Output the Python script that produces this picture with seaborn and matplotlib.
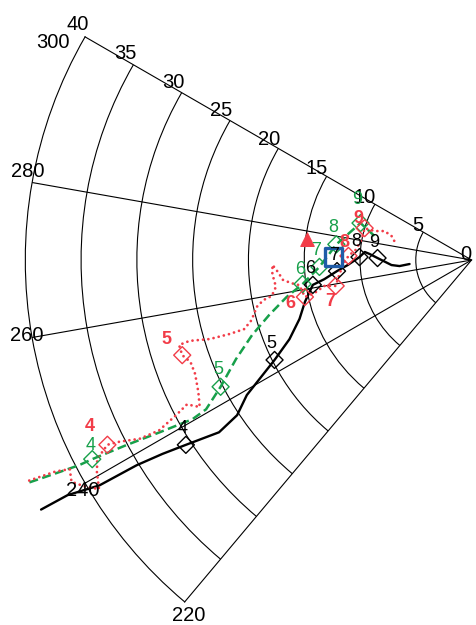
import numpy as np
import matplotlib
matplotlib.use("Agg")
import matplotlib.pyplot as plt
import seaborn as sns

# ---- track data: compass bearing (deg) and range ----
obs_bearing = [239.9, 239.8, 238.8, 238.5, 237.9, 237.1, 235.7, 236.5, 239.0, 240.7,
               243.1, 246.5, 251.1, 255.9, 261.1, 262.6, 265.3, 267.7, 271.5, 274.3,
               273.4, 271.2, 266.4, 265.2, 266.3]
obs_range = [44.6, 41.9, 39.0, 35.2, 32.7, 30.5, 27.4, 25.2, 23.5, 21.8,
             19.8, 17.8, 16.3, 15.4, 14.4, 13.3, 12.1, 11.1, 10.05, 9.6,
             9.16, 8.43, 7.19, 6.48, 5.57]

gfs_bearing = [243.3, 242.9, 242.4, 242.3, 241.8, 241.1, 240.3, 240.65, 243.2, 247.2,
               251.1, 254.8, 258.7, 261.9, 267.4, 276.6, 288.4, 283.5]
gfs_range = [44.36, 42.2, 39.7, 38.4, 35.1, 32.0, 28.8, 27.3, 25.2, 22.9,
             20.8, 18.8, 16.9, 15.3, 13.65, 12.2, 10.49, 8.85]

ec_bearing = [243.5, 243.05, 242.5, 241.0, 239.7, 238.4, 240.45, 242.0, 243.1, 242.7,
              241.7, 241.4, 242.3, 243.1, 241.6, 244.2, 247.6, 250.05, 251.8, 253.8,
              254.0, 253.2, 253.0, 253.1, 254.7, 257.7, 259.1, 259.8, 262.2, 266.0,
              268.6, 266.5, 264.0, 262.7, 261.7, 257.5, 258.1, 260.0, 259.2, 264.0,
              268.2, 271.9, 274.9, 280.3, 286.6, 286.6, 288.4, 286.7, 281.3]
ec_range = [44.3, 41.8, 40.6, 41.0, 40.2, 39.2, 38.6, 38.0, 36.6, 35.5,
            33.8, 31.9, 29.9, 28.6, 27.7, 27.2, 26.8, 26.8, 27.3, 27.3,
            26.3, 24.5, 22.7, 21.3, 20.45, 19.7, 19.0, 18.2, 17.7, 17.9,
            17.85, 17.4, 17.0, 16.3, 15.6, 15.3, 14.4, 13.4, 12.4, 11.9,
            11.5, 11.04, 10.44, 10.03, 10.0, 9.08, 8.22, 7.49, 6.86]

# daily fixes (day number, bearing, range)
days = [4, 5, 6, 7, 8, 9]
obs_fix_bearing = [237.1, 243.1, 261.1, 265.3, 271.5, 271.2]
obs_fix_range = [30.5, 19.8, 14.4, 12.1, 10.05, 8.43]
gfs_fix_bearing = [242.3, 243.2, 261.9, 267.4, 276.6, 288.4]
gfs_fix_range = [38.4, 25.2, 15.3, 13.65, 12.2, 10.49]
ec_fix_bearing = [243.1, 251.8, 257.5, 259.2, 271.9, 286.6]
ec_fix_range = [36.6, 27.3, 15.3, 12.4, 11.04, 10.0]

# single-point markers
triangle_bearing, triangle_range = [277.3], [14.9]
square_bearing, square_range = [271.2], [12.38]

# axis ticks
range_ticks = [0, 5, 10, 15, 20, 25, 30, 35, 40]
bearing_ticks = [220, 240, 260, 280, 300]

BLACK = "#000000"
GREEN = "#17a04a"
RED = "#f23c48"
BLUE = "#1f5ca8"

sns.set_theme(style="white")
plt.rcParams["font.family"] = ["Liberation Sans", "DejaVu Sans"]

fig = plt.figure(figsize=(4.76, 6.25), dpi=100)
# the polar wedge is fitted inside this box with some margin
ax = fig.add_axes([-0.0836, -0.0898, 1.187, 1.1576], projection="polar")
ax.set_theta_zero_location("N")
ax.set_theta_direction(-1)

rad = np.deg2rad

# tracks
sns.lineplot(x=rad(obs_bearing), y=obs_range, ax=ax, sort=False, estimator=None,
             color=BLACK, lw=1.7, clip_on=False, zorder=3)
sns.lineplot(x=rad(gfs_bearing), y=gfs_range, ax=ax, sort=False, estimator=None,
             color=GREEN, lw=1.8, clip_on=False, zorder=3,
             linestyle=(0, (3.6, 1.8)))
sns.lineplot(x=rad(ec_bearing), y=ec_range, ax=ax, sort=False, estimator=None,
             color=RED, lw=2.0, clip_on=False, zorder=3,
             linestyle=(0, (0.01, 1.9)), dash_capstyle="round")

# daily fix markers
for b, r, c in [(obs_fix_bearing, obs_fix_range, BLACK),
                (gfs_fix_bearing, gfs_fix_range, GREEN),
                (ec_fix_bearing, ec_fix_range, RED)]:
    sns.scatterplot(x=rad(b), y=r, ax=ax, marker="D", s=75, color=c,
                    facecolor="none", edgecolor=c, linewidth=1.0, zorder=4,
                    clip_on=False)

sns.scatterplot(x=rad(triangle_bearing), y=triangle_range, ax=ax, marker="^",
                s=100, color=RED, edgecolor=RED, linewidth=0.5, zorder=5)
sns.scatterplot(x=rad(square_bearing), y=square_range, ax=ax, marker="s",
                s=160, color=BLUE, facecolor="none", edgecolor=BLUE,
                linewidth=2.4, zorder=5)

# day labels next to each fix (pixel offsets)
obs_off = [(-3, -16)] * 6
gfs_off = [(-2, -14), (-2, -17), (-2, -15), (-3, -16), (-3, -17), (-3, -24)]
ec_off = [(-18, -18), (-16, -16), (-15, 7), (-5, 16), (-4, -13), (-6, -10)]
for b, r, offs, c, w in [(obs_fix_bearing, obs_fix_range, obs_off, BLACK, "normal"),
                         (gfs_fix_bearing, gfs_fix_range, gfs_off, GREEN, "normal"),
                         (ec_fix_bearing, ec_fix_range, ec_off, RED, "bold")]:
    for d, bb, rr, (dx, dy) in zip(days, b, r, offs):
        ax.annotate(str(d), xy=(rad(bb), rr), xytext=(dx, -dy),
                    textcoords="offset pixels", ha="center", va="center",
                    color=c, fontsize=13, fontweight=w, zorder=6,
                    annotation_clip=False)

# sector frame and grid
ax.set_thetamin(220)
ax.set_thetamax(300)
ax.set_ylim(0, 40)
ax.set_rgrids(range_ticks[1:-1])
ax.set_yticklabels([])
ax.set_thetagrids(bearing_ticks[1:-1])
ax.set_xticklabels([])
ax.tick_params(length=0)
ax.grid(True, color="black", lw=0.8, ls="-")
for sp in ax.spines.values():
    sp.set_color("black")
    sp.set_linewidth(0.8)
ax.set_xlabel("")
ax.set_ylabel("")

# range labels along the 300-degree edge
for r in range_ticks:
    ax.annotate(str(r), xy=(rad(301), r), xytext=(0, 0), textcoords="offset pixels",
                ha="right", va="baseline", fontsize=14.5, color="black",
                annotation_clip=False)

# bearing labels around the outer arc
bearing_label_pos = [(218.5, 40.7), (239.4, 40.5), (260.4, 40.4), (281.3, 40.6), (297.5, 42.3)]
for t, (pb, pr) in zip(bearing_ticks, bearing_label_pos):
    ax.text(rad(pb), pr, str(t), ha="center", va="center", fontsize=14.5,
            color="black", clip_on=False)

fig.savefig("out.png", dpi=100, facecolor="white")
